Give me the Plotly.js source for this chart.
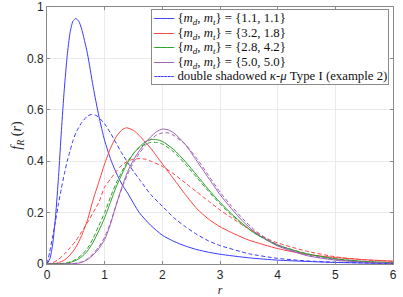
<!DOCTYPE html>
<html>
<head>
<meta charset="utf-8">
<script src="https://cdn.plot.ly/plotly-3.0.1.min.js"></script>
<style>html,body{margin:0;padding:0;background:#fff;}#chart{width:403px;height:297px;}</style>
</head>
<body>
<div id="chart"></div>
<script>
// ---- data ----
const SUB = '<span style="font-size:9px;baseline-shift:-3px;font-style:italic">';
const legendNames = [
  "{<i>m</i>" + SUB + "d</span>, <i>m</i>" + SUB + "t</span>} = {1.1, 1.1}",
  "{<i>m</i>" + SUB + "d</span>, <i>m</i>" + SUB + "t</span>} = {3.2, 1.8}",
  "{<i>m</i>" + SUB + "d</span>, <i>m</i>" + SUB + "t</span>} = {2.8, 4.2}",
  "{<i>m</i>" + SUB + "d</span>, <i>m</i>" + SUB + "t</span>} = {5.0, 5.0}",
  "double shadowed <i>κ</i>-<i>μ</i> Type I (example 2)"
];
const xTicks = [0, 1, 2, 3, 4, 5, 6];
const yTicks = [0, 0.2, 0.4, 0.6, 0.8, 1];
const yTickLabels = ["0", "0.2", "0.4", "0.6", "0.8", "1"];

// blue {1.1,1.1}
const rBlueSolid = [0,0.05,0.1,0.15,0.2,0.25,0.3,0.35,0.4,0.45,0.5,0.55,0.6,0.7,0.8,0.9,1.0,1.1,1.2,1.3,1.4,1.6,1.8,2.0,2.2,2.4,2.6,2.8,3.0,3.5,4.0,4.5,5.0,5.5,6.0];
const fBlueSolid = [0,0.02,0.08,0.19,0.34,0.52,0.68,0.81,0.9,0.945,0.955,0.945,0.915,0.82,0.69,0.575,0.48,0.41,0.355,0.31,0.275,0.2,0.15,0.112,0.088,0.07,0.056,0.046,0.038,0.024,0.015,0.01,0.006,0.004,0.002];
const rBlueDash = [0,0.05,0.1,0.15,0.2,0.25,0.3,0.35,0.4,0.45,0.5,0.6,0.7,0.77,0.85,0.9,1.0,1.1,1.2,1.3,1.4,1.5,1.6,1.8,2.0,2.2,2.4,2.6,2.8,3.0,3.5,4.0,4.5,5.0,5.5,6.0];
const fBlueDash = [0,0.05,0.11,0.17,0.235,0.295,0.35,0.4,0.44,0.48,0.51,0.55,0.575,0.582,0.578,0.57,0.545,0.51,0.47,0.43,0.395,0.36,0.33,0.27,0.225,0.18,0.145,0.115,0.09,0.072,0.04,0.022,0.012,0.007,0.004,0.002];

// red {3.2,1.8}
const rRedSolid = [0,0.1,0.2,0.3,0.4,0.5,0.6,0.7,0.8,0.9,1.0,1.1,1.2,1.3,1.38,1.5,1.6,1.7,1.8,1.9,2.0,2.2,2.4,2.6,2.8,3.0,3.25,3.5,4.0,4.5,5.0,5.5,6.0];
const fRedSolid = [0,0.001,0.005,0.015,0.035,0.065,0.11,0.17,0.25,0.32,0.39,0.45,0.495,0.522,0.53,0.52,0.5,0.475,0.45,0.42,0.39,0.33,0.27,0.215,0.175,0.145,0.117,0.093,0.06,0.038,0.025,0.017,0.011];
const rRedDash = [0,0.1,0.2,0.3,0.4,0.5,0.6,0.7,0.8,0.9,1.0,1.1,1.2,1.3,1.4,1.5,1.6,1.7,1.8,2.0,2.2,2.4,2.6,2.8,3.0,3.2,3.4,3.6,3.8,4.0,4.5,5.0,5.5,6.0];
const fRedDash = [0,0.005,0.018,0.038,0.063,0.09,0.125,0.16,0.2,0.24,0.3,0.33,0.36,0.385,0.4,0.408,0.41,0.408,0.4,0.38,0.35,0.315,0.28,0.245,0.21,0.18,0.15,0.125,0.1,0.082,0.05,0.028,0.016,0.01];

// green {2.8,4.2}
const rGreenSolid = [0,0.3,0.4,0.5,0.6,0.7,0.8,0.9,1.0,1.1,1.2,1.3,1.4,1.5,1.6,1.7,1.8,1.9,2.0,2.2,2.4,2.6,2.8,3.0,3.2,3.4,3.6,3.8,4.0,4.5,5.0,5.5,6.0];
const fGreenSolid = [0,0.002,0.006,0.014,0.028,0.05,0.085,0.13,0.18,0.24,0.3,0.35,0.395,0.43,0.455,0.475,0.485,0.484,0.477,0.445,0.398,0.345,0.29,0.24,0.195,0.155,0.12,0.095,0.073,0.04,0.02,0.01,0.005];
const rGreenDash = [0,0.3,0.4,0.5,0.6,0.7,0.8,0.9,1.0,1.1,1.2,1.3,1.4,1.5,1.6,1.7,1.8,1.9,2.0,2.2,2.4,2.6,2.8,3.0,3.2,3.4,3.6,3.8,4.0,4.5,5.0,5.5,6.0];
const fGreenDash = [0,0.003,0.008,0.018,0.035,0.06,0.1,0.15,0.2,0.26,0.315,0.36,0.4,0.43,0.452,0.466,0.473,0.473,0.467,0.436,0.388,0.336,0.283,0.234,0.19,0.152,0.12,0.095,0.074,0.04,0.02,0.01,0.005];

// purple {5.0,5.0}
const rPurpleSolid = [0,0.4,0.5,0.6,0.7,0.8,0.9,1.0,1.1,1.2,1.3,1.4,1.5,1.6,1.7,1.8,1.9,2.0,2.1,2.2,2.4,2.6,2.8,3.0,3.2,3.4,3.6,3.8,4.0,4.5,5.0,5.5,6.0];
const fPurpleSolid = [0,0.0005,0.002,0.006,0.017,0.035,0.06,0.095,0.155,0.23,0.3,0.36,0.405,0.44,0.47,0.495,0.515,0.525,0.522,0.51,0.465,0.4,0.335,0.27,0.215,0.165,0.125,0.095,0.07,0.033,0.015,0.007,0.003];
const rPurpleDash = [0,0.4,0.5,0.6,0.7,0.8,0.9,1.0,1.1,1.2,1.3,1.4,1.5,1.6,1.7,1.8,1.9,2.0,2.1,2.2,2.4,2.6,2.8,3.0,3.2,3.4,3.6,3.8,4.0,4.5,5.0,5.5,6.0];
const fPurpleDash = [0,0.001,0.003,0.008,0.02,0.04,0.067,0.105,0.16,0.23,0.295,0.35,0.395,0.43,0.46,0.485,0.502,0.51,0.51,0.5,0.465,0.41,0.345,0.28,0.225,0.175,0.132,0.1,0.075,0.036,0.017,0.008,0.003];

// ---- drawing ----
const cBlue = "#3a3aff", cRed = "#ff4040", cGreen = "#2a9f2a", cPurple = "#9b5fb5";
const legendColors = [cBlue, cRed, cGreen, cPurple, cBlue];
const legendSamples = ["───", "───", "───", "───", "╌╌╌"];
const dashPat = "4px,2.5px";
function tr(x, y, color, dash, name) {
  return {x: x, y: y, type: "scatter", mode: "lines", name: name, showlegend: false,
          line: {color: color, width: 1, dash: dash, shape: "spline", smoothing: 0.6},
          hoverinfo: "skip"};
}
const traces = [
  tr(rBlueSolid, fBlueSolid, cBlue, "solid", "{m_d, m_t} = {1.1, 1.1}"),
  tr(rRedSolid, fRedSolid, cRed, "solid", "{m_d, m_t} = {3.2, 1.8}"),
  tr(rGreenSolid, fGreenSolid, cGreen, "solid", "{m_d, m_t} = {2.8, 4.2}"),
  tr(rPurpleSolid, fPurpleSolid, cPurple, "solid", "{m_d, m_t} = {5.0, 5.0}"),
  tr(rBlueDash, fBlueDash, cBlue, dashPat, "double shadowed κ-μ Type I (example 2)"),
  tr(rRedDash, fRedDash, cRed, dashPat, "double shadowed κ-μ Type I (example 2)"),
  tr(rGreenDash, fGreenDash, cGreen, dashPat, "double shadowed κ-μ Type I (example 2)"),
  tr(rPurpleDash, fPurpleDash, cPurple, dashPat, "double shadowed κ-μ Type I (example 2)")
];

// legend box built as one text block (MATLAB-like compact rows)
const legendText = legendNames.map(function (n, i) {
  return '<span style="font-family:DejaVu Sans;font-size:11px;color:' + legendColors[i] + '">' +
         legendSamples[i] + ' </span><span style="font-size:12.8px">' + n + '</span>';
}).join("<br>");

const axisCommon = {
  showline: true, linecolor: "#8a8a8a", linewidth: 1, mirror: "allticks",
  ticks: "inside", ticklen: 3, tickcolor: "#8a8a8a", tickwidth: 1,
  showgrid: true, gridcolor: "#ebebeb", gridwidth: 1, zeroline: false,
  ticklabeloverflow: "allow",
  tickfont: {family: "Liberation Sans, Arial, sans-serif", size: 12, color: "#262626"}
};

const layout = {
  width: 403, height: 297,
  margin: {l: 47, r: 10, t: 7, b: 33},
  paper_bgcolor: "#ffffff", plot_bgcolor: "#ffffff",
  showlegend: false,
  xaxis: Object.assign({}, axisCommon, {
    range: [0, 6], tickvals: xTicks, ticktext: xTicks.map(String),
    title: {text: "<i>r</i>", font: {family: "Liberation Serif, serif", size: 12, color: "#262626"}, standoff: 4}
  }),
  yaxis: Object.assign({}, axisCommon, {
    range: [0, 1], tickvals: yTicks, ticktext: yTickLabels,
    title: {text: '<i>f</i><span style="font-size:10px;baseline-shift:-3px;font-style:italic">R</span> (<i>r</i>)',
            font: {family: "Liberation Serif, serif", size: 14, color: "#262626"}, standoff: 2}
  }),
  annotations: [{
    xref: "paper", yref: "paper", x: 0.3006, y: 0.992, xanchor: "left", yanchor: "top",
    showarrow: false, align: "left", text: legendText,
    font: {family: "Liberation Serif, serif", size: 11.2, color: "#111111"},
    bgcolor: "#ffffff", bordercolor: "#8a8a8a", borderwidth: 1, borderpad: 1
  }]
};

Plotly.newPlot("chart", traces, layout, {displayModeBar: false, staticPlot: true});
</script>
</body>
</html>
